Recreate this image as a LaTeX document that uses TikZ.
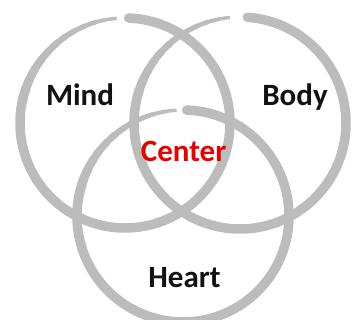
\documentclass[tikz,border=0pt]{standalone}
\usepackage{fontspec}
\setmainfont{Carlito}
\definecolor{brushgray}{RGB}{188,188,188}
\definecolor{centerred}{RGB}{232,0,0}
\definecolor{txt}{RGB}{18,18,18}
\newcommand\brushcircle[4]{%
  \draw[brush, line width=9.5pt, line cap=round] (#1) ++(#3:#2) arc[start angle=#3, end angle=#4+72, radius=#2];
  \foreach \k in {0,...,11}{
    \pgfmathsetmacro\sa{#4+72-6*\k}
    \pgfmathsetmacro\ea{\sa-6.5}
    \pgfmathsetmacro\lw{9.5-0.55*\k}
    \draw[brush, line width=\lw pt, line cap=butt] (#1) ++(\sa:#2) arc[start angle=\sa, end angle=\ea, radius=#2];
  }
}
\begin{document}
\begin{tikzpicture}[x=1pt,y=1pt,
  brush/.style={draw=brushgray},
  lbl/.style={font=\fontsize{31}{36}\selectfont\bfseries, text=txt, anchor=base, inner sep=0pt}]
\useasboundingbox (0,0) rectangle (358,320);
\coordinate (cm) at (125,197);
\coordinate (cb) at (240,197);
\coordinate (ch) at (183,104);
\brushcircle{cm}{105}{88}{-265}
\brushcircle{cb}{106}{86}{-264}
\brushcircle{ch}{106}{88}{-266}
\node[lbl] (mind) at (80,214) {Mind};
\node[lbl] (body) at (295,214) {Body};
\node[lbl] (heart) at (184.5,32) {Heart};
\node[lbl, text=centerred] (center) at (183.6,158.3) {Center};
\end{tikzpicture}
\end{document}
